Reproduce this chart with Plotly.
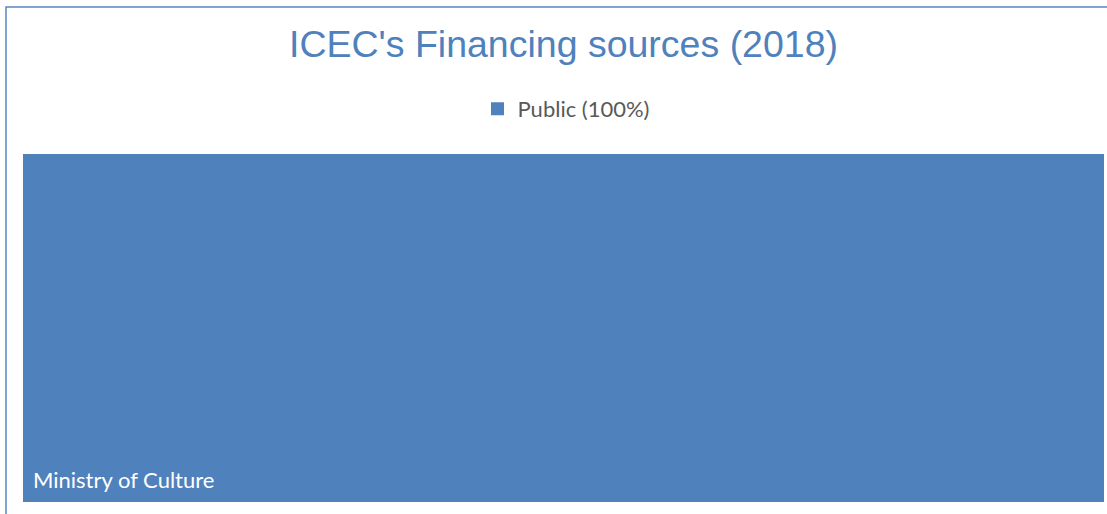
import plotly.graph_objects as go

# Data
group_name = "Public (100%)"
categories = ["Ministry of Culture"]
values = [100]
title_text = "ICEC's Financing sources (2018)"

W, H = 1107, 514
blue = "#4F81BD"

labels = [group_name] + categories
parents = [""] + [group_name] * len(categories)
node_values = [sum(values)] + values

fig = go.Figure()
fig.add_trace(go.Treemap(
    labels=labels,
    parents=parents,
    values=node_values,
    branchvalues="total",
    marker=dict(colors=[blue] * len(labels), line=dict(color=blue, width=0),
                pad=dict(t=0, l=7, r=0, b=6)),
    texttemplate=[" "] + ["%{label}"] * len(categories),
    textposition="bottom left",
    textfont=dict(family="Lato, Open Sans, sans-serif", size=22,
                  color=[blue] + ["white"] * len(categories)),
    domain=dict(x=[23 / W, 1104 / W], y=[(H - 502) / H, (H - 154) / H]),
    hoverinfo="label+value",
    pathbar=dict(visible=False),
    tiling=dict(pad=0),
))
# legend entry
fig.add_trace(go.Scatter(
    x=[None], y=[None], mode="markers", name=group_name,
    marker=dict(symbol="square", size=13, color=blue),
    showlegend=True,
))

fig.update_layout(
    width=W, height=H,
    margin=dict(l=0, r=0, t=0, b=0),
    paper_bgcolor="white", plot_bgcolor="white",
    title=dict(text=title_text, x=563.5 / W, xanchor="center", xref="paper",
               y=1 - 44 / H, yanchor="middle", yref="container",
               font=dict(family="Liberation Sans, Arial, sans-serif", size=37.5, color=blue)),
    legend=dict(orientation="h", x=566 / W, xanchor="center", y=1 - 109 / H, yanchor="middle",
                font=dict(family="Lato, Open Sans, sans-serif", size=22, color="#595959"),
                bgcolor="rgba(0,0,0,0)"),
    xaxis=dict(visible=False), yaxis=dict(visible=False),
    shapes=[dict(type="rect", xref="paper", yref="paper",
                 x0=6 / W, x1=1.02, y0=-0.02, y1=1 - 7 / H,
                 line=dict(color="#5B86C5", width=1.5), fillcolor="rgba(0,0,0,0)", layer="above")],
)

fig.write_html("out.html", config={"displayModeBar": False},
               post_script="document.body.style.margin='0';")
